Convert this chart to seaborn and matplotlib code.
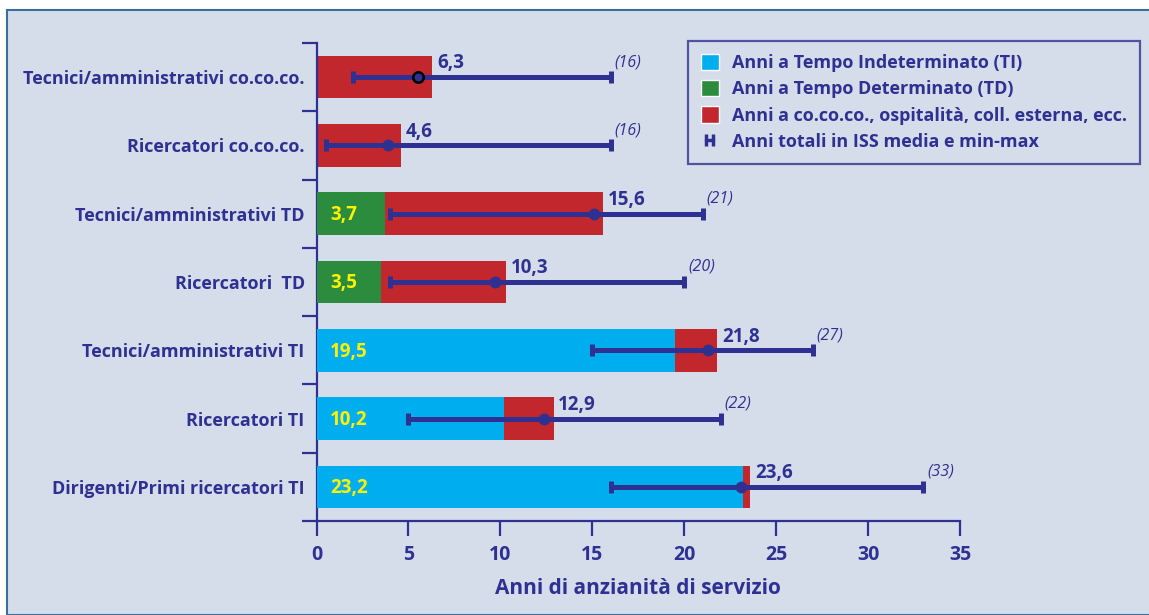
import matplotlib
matplotlib.use("Agg")

import matplotlib.pyplot as plt
from matplotlib.patches import Rectangle, Patch
from matplotlib.lines import Line2D
import seaborn as sns
import numpy as np
import pandas as pd

categories = [
    "Tecnici/amministrativi co.co.co.",
    "Ricercatori co.co.co.",
    "Tecnici/amministrativi TD",
    "Ricercatori  TD",
    "Tecnici/amministrativi TI",
    "Ricercatori TI",
    "Dirigenti/Primi ricercatori TI",
]
contract = ["", "", "TD", "TD", "TI", "TI", "TI"]
contract_years = [0, 0, 3.7, 3.5, 19.5, 10.2, 23.2]
total_years = [6.3, 4.6, 15.6, 10.3, 21.8, 12.9, 23.6]
mean_total = [5.5, 3.9, 15.1, 9.7, 21.3, 12.4, 23.1]
min_total = [2, 0.5, 4, 4, 15, 5, 16]
max_total = [16, 16, 21, 20, 27, 22, 33]

NAVY = "#2E3192"
BLUE = "#00AEEF"
GREEN = "#2A8C3C"
RED = "#C1272D"
YELLOW = "#FFF200"
BG = "#D5DDEA"

sns.set_style("white")
plt.rcParams["font.family"] = ["Open Sans", "DejaVu Sans"]

df = pd.DataFrame({
    "categoria": categories,
    "contratto": contract,
    "anni": contract_years,
    "totale": total_years,
})

fig = plt.figure(figsize=(11.49, 6.15), dpi=100)
fig.patch.set_facecolor("white")
fig.patches.append(Rectangle((7 / 1149, 0), 1.1, 605 / 615, transform=fig.transFigure,
                             facecolor=BG, edgecolor="#3A6E9C", linewidth=1.5, zorder=-1))

ax = fig.add_axes([316.5 / 1149, 94 / 615, 643.5 / 1149, 478 / 615])
ax.set_facecolor("none")

# red = total, then TI/TD portion on top
sns.barplot(data=df, x="totale", y="categoria", color=RED, width=0.625,
            saturation=1, ax=ax, zorder=2)
sns.barplot(data=df[df["contratto"] != ""], x="anni", y="categoria", hue="contratto",
            palette={"TI": BLUE, "TD": GREEN}, dodge=False, width=0.625,
            saturation=1, legend=False, ax=ax, zorder=3)
for p in ax.patches:
    p.set_edgecolor("none")

ypos = np.arange(len(categories))
means = np.array(mean_total)
xerr = [means - np.array(min_total), np.array(max_total) - means]
ax.errorbar(means, ypos, xerr=xerr, fmt="none", ecolor=NAVY, elinewidth=3.6,
            capsize=4, capthick=3.6, zorder=4)
ax.plot(means[1:], ypos[1:], "o", color=NAVY, ms=7.5, zorder=5)
ax.plot(means[:1], ypos[:1], "o", mfc=NAVY, mec="black", mew=1.8, ms=7.5, zorder=5)

for i in range(len(categories)):
    ax.text(total_years[i] + 0.25, ypos[i] - 0.2, f"{total_years[i]:.1f}".replace(".", ","),
            color=NAVY, fontsize=13.5, fontweight="bold", va="center", ha="left", zorder=6)
    ax.text(max_total[i] + 0.2, ypos[i] - 0.22, f"({max_total[i]})",
            color=NAVY, fontsize=11.5, style="italic", va="center", ha="left", zorder=6)
    if contract_years[i] > 0:
        ax.text(0.75, ypos[i] + 0.02, f"{contract_years[i]:.1f}".replace(".", ","),
                color=YELLOW, fontsize=13.5, fontweight="bold", va="center", ha="left", zorder=6)

ax.set_xlim(0, 35)
ax.set_ylim(len(categories) - 0.5, -0.5)
ax.set_xticks(range(0, 36, 5))
ax.set_yticks(ypos, categories)
ax.set_yticks(np.arange(-0.5, len(categories)), minor=True)
ax.tick_params(bottom=True, left=True, which="both")
ax.tick_params(axis="y", which="major", length=0, pad=8.5, labelsize=13, labelcolor=NAVY)
ax.tick_params(axis="y", which="minor", length=11, width=1.6, color=NAVY)
ax.tick_params(axis="x", length=11, width=1.6, color=NAVY, labelsize=14, labelcolor=NAVY, pad=6)
for lab in ax.get_yticklabels() + ax.get_xticklabels():
    lab.set_fontweight("bold")

sns.despine(ax=ax)
for s in ["left", "bottom"]:
    ax.spines[s].set_color(NAVY)
    ax.spines[s].set_linewidth(1.6)

ax.set_xlabel("Anni di anzianità di servizio", color=NAVY, fontsize=15,
              fontweight="bold", labelpad=10)
ax.set_ylabel("")

handles = [
    Patch(facecolor=BLUE, label="Anni a Tempo Indeterminato (TI)"),
    Patch(facecolor=GREEN, label="Anni a Tempo Determinato (TD)"),
    Patch(facecolor=RED, label="Anni a co.co.co., ospitalità, coll. esterna, ecc."),
    Line2D([], [], color=NAVY, lw=2.5, marker="|", ms=9, mew=2.5,
           label="Anni totali in ISS media e min-max"),
]
leg = fig.legend(handles=handles, loc="upper left", bbox_to_anchor=(688 / 1149, 1 - 41 / 615),
                 frameon=True, fancybox=False, fontsize=13, numpoints=2,
                 handlelength=1.0, handleheight=1.0, handletextpad=0.75,
                 labelspacing=0.45, borderpad=0.7, borderaxespad=0)
leg.get_frame().set_edgecolor(NAVY)
leg.get_frame().set_linewidth(1.6)
leg.get_frame().set_facecolor(BG)
for t in leg.get_texts():
    t.set_color(NAVY)
    t.set_fontweight("bold")

fig.savefig("out.png", dpi=100, facecolor=fig.get_facecolor())
plt.close(fig)
